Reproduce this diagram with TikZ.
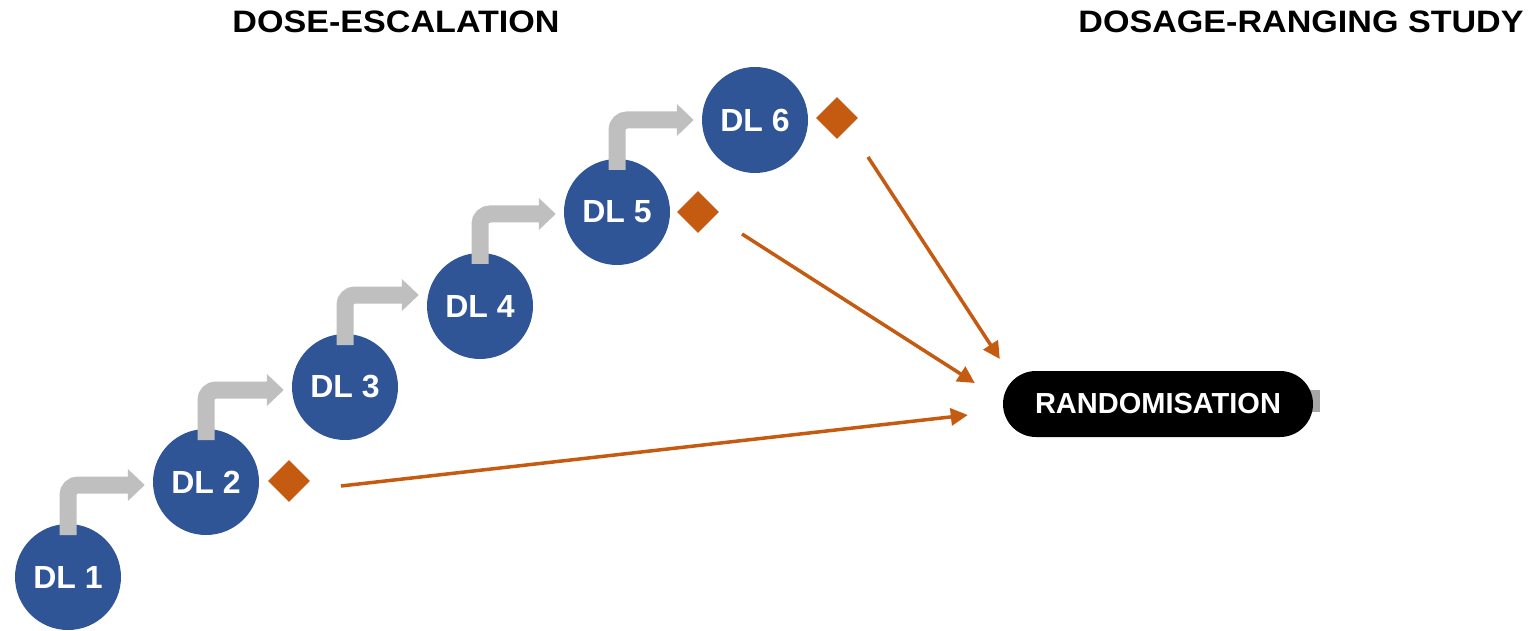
\documentclass[tikz,border=0pt]{standalone}
\usepackage{fontspec}
\setmainfont{Liberation Sans}
\newfontfamily\headfont{Liberation Sans}[FakeStretch=1.1]
\usetikzlibrary{arrows.meta,shapes.geometric,shapes.misc}
\definecolor{dlblue}{HTML}{2F5597}
\definecolor{dlorange}{HTML}{C55A11}
\definecolor{steparrow}{HTML}{BFBFBF}
\definecolor{stubgray}{HTML}{A6A6A6}
\tikzset{
  dose/.style={circle, fill=dlblue, minimum size=106pt, inner sep=0pt,
    text=white, font=\fontsize{32}{32}\selectfont\bfseries},
  mark diamond/.style={diamond, fill=dlorange, minimum width=42pt,
    minimum height=42pt, inner sep=0pt},
  escalate/.style={draw=steparrow, line width=17pt, rounded corners=10pt,
    shorten >=8pt, -{Triangle[length=17pt,width=31pt]}},
  toRand/.style={draw=dlorange, line width=3.5pt,
    -{Triangle[length=17pt,width=17pt]}},
  pill/.style={rounded rectangle, fill=black, minimum width=310pt,
    minimum height=66pt, inner sep=0pt, text=white,
    font=\fontsize{29}{29}\selectfont\bfseries},
  heading/.style={font=\headfont\fontsize{31}{31}\selectfont\bfseries}
}
\begin{document}
\begin{tikzpicture}[x=1pt,y=1pt]
\useasboundingbox (0,0) rectangle (1538,630);

% headings
\node[heading] (h1) at (396,608) {DOSE-ESCALATION};
\node[heading] (h2) at (1301,608) {DOSAGE-RANGING STUDY};

% dose levels
\node[dose] (dl1) at (68,53)  {DL 1};
\node[dose] (dl2) at (206,148) {DL 2};
\node[dose] (dl3) at (345,243) {DL 3};
\node[dose] (dl4) at (480,324) {DL 4};
\node[dose] (dl5) at (617,418) {DL 5};
\node[dose] (dl6) at (755,510) {DL 6};

% escalation steps
\foreach \a/\b in {dl1/dl2, dl2/dl3, dl3/dl4, dl4/dl5, dl5/dl6}{
  \draw[escalate] ([yshift=42pt]\a.center) -- ([yshift=92pt]\a.center)
    -- ([yshift=92pt]\a.center -| \b.west);
}

% selected dose markers
\node[mark diamond] (d2) at (289,149) {};
\node[mark diamond] (d5) at (698,418) {};
\node[mark diamond] (d6) at (837,512) {};

% randomisation
\fill[stubgray] (1300,218) rectangle (1320,240);
\node[pill] (rand) at (1158,226) {RANDOMISATION};

\draw[toRand] ([xshift=52pt,yshift=-5pt]d2.center) -- ([xshift=-35pt,yshift=-11pt]rand.west);
\draw[toRand] ([xshift=44pt,yshift=-22pt]d5.center) -- ([xshift=-28pt,yshift=21pt]rand.west);
\draw[toRand] ([xshift=31pt,yshift=-39pt]d6.center) -- ([xshift=-3pt,yshift=45pt]rand.west);
\end{tikzpicture}
\end{document}
